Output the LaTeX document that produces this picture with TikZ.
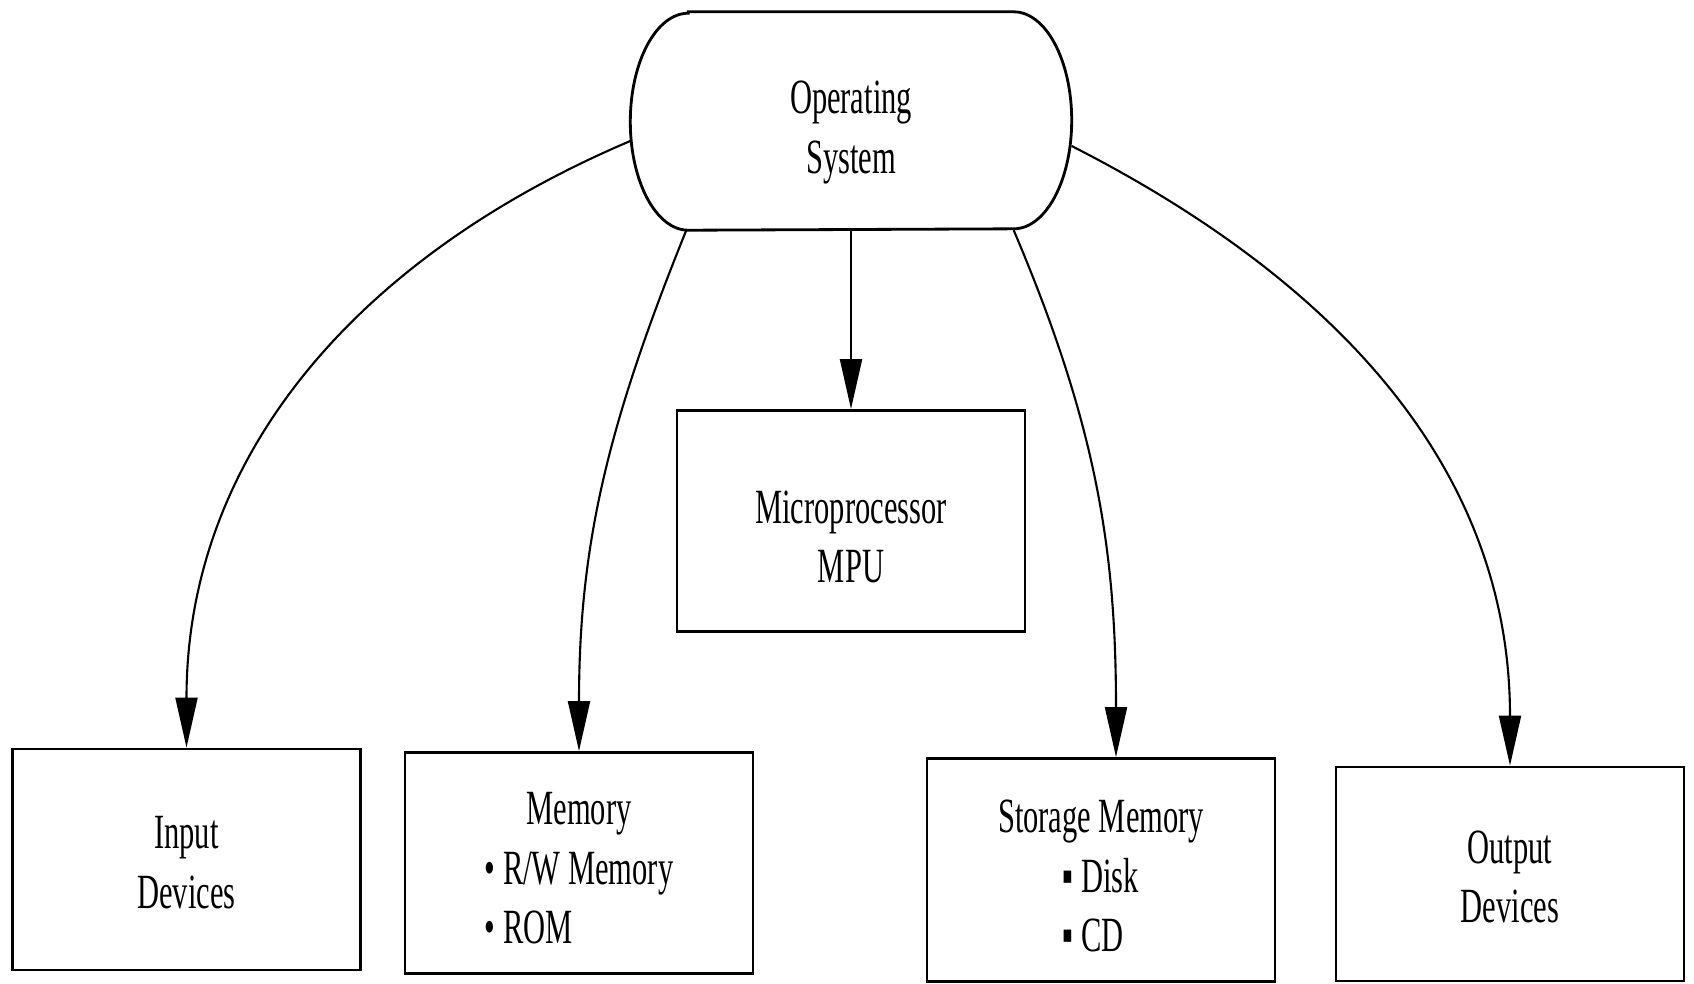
\documentclass[tikz,border=0pt]{standalone}
\usepackage{fontspec}
\setmainfont{Liberation Serif}[FakeStretch=0.62]
\usetikzlibrary{positioning, calc, arrows.meta}
\tikzstyle{osbox} = [minimum width=4.40cm, minimum height=2.17cm, text centered]
\tikzstyle{unit} = [rectangle, minimum width=3.48cm, minimum height=2.18cm, text centered, draw=black, line width=0.8pt]
\tikzstyle{arrow} = [-{Triangle[length=5mm, width=2.2mm]}, line width=0.6pt]
\tikzstyle{every node}=[font=\fontsize{14}{17}\selectfont]

\begin{document}
\begin{tikzpicture}[node distance=1.5cm, align=center]
    \useasboundingbox (0,0) rectangle (16.94,-9.83);
    %boxes (the rules push the text a bit below the middle)
    \node (os) [osbox] at (8.51,-1.21) {\rule{0pt}{15.8pt}Operating\\System};
    \node (mpu) [unit, below of = os, yshift = -2.5cm, minimum height=2.21cm] {\rule{0pt}{18.4pt}Microprocessor\\MPU};
    \node (inp) [unit, below of = os, yshift = -5.885cm, xshift = -6.645cm, minimum height=2.21cm] {\rule{0pt}{11pt}Input\\Devices};
    \node (mem) [unit, below of = os, yshift = -5.92cm, xshift = -2.72cm] {\rule{0pt}{17.1pt}Memory\\\begin{tabular}[t]{@{}l@{}}• R/W Memory\\• ROM\end{tabular}};
    \node (stor) [unit, below of = os, yshift = -5.99cm, xshift = 2.5cm, minimum height=2.16cm] {\rule{0pt}{17.7pt}Storage Memory\\\begin{tabular}[t]{@{}l@{}}▪ Disk\\▪ CD\end{tabular}};
    \node (out) [unit, below of = os, yshift = -6.03cm, xshift = 6.59cm, minimum height=2.14cm] {\rule{0pt}{11pt}Output\\Devices};
    %capsule around the operating system
    \draw [line width=0.8pt] ([xshift=0.58cm]os.north west) -- ([xshift=-0.58cm]os.north east)
        arc[start angle=90, end angle=-90, x radius=0.58cm, y radius=1.085cm]
        -- ([xshift=0.58cm]os.south west)
        arc[start angle=270, end angle=90, x radius=0.58cm, y radius=1.085cm] -- cycle;

    %connections
    \draw [arrow] (os.south) -- (mpu.north);
    \draw [arrow] ([yshift=-2mm]os.west) to[out=203, in=90] (inp.north);
    \draw [arrow] ([xshift=0.56cm]os.south west) to[out=248, in=90] (mem.north);
    \draw [arrow] ([xshift=-0.58cm]os.south east) to[out=293, in=90] ([xshift=1.5mm]stor.north);
    \draw [arrow] ([yshift=-2.5mm]os.east) to[out=-27, in=90] (out.north);
\end{tikzpicture}
\end{document}
